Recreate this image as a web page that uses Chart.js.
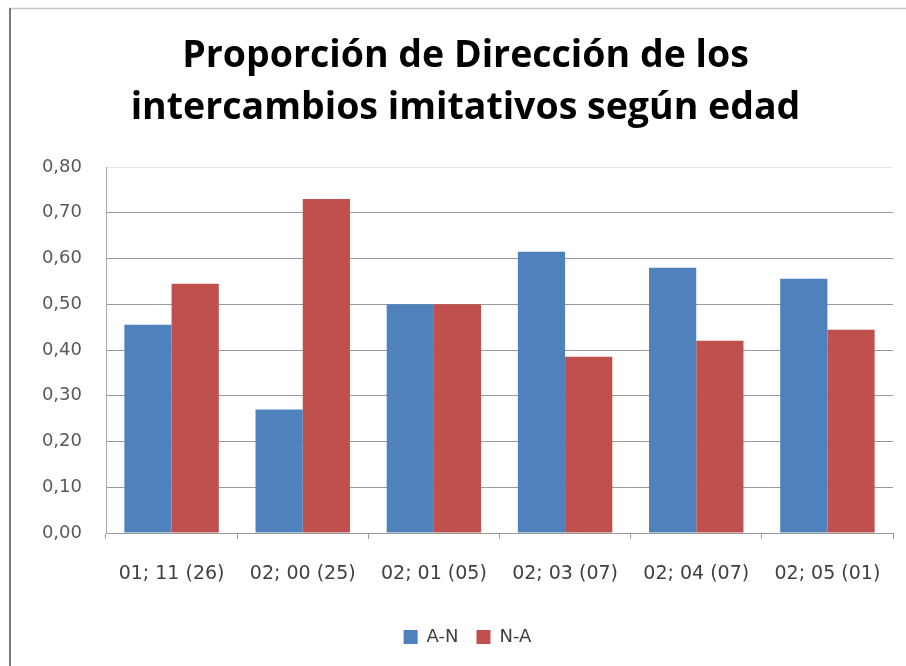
<!DOCTYPE html>
<html>
<head>
<meta charset="utf-8">
<script src="https://cdn.jsdelivr.net/npm/chart.js@4/dist/chart.umd.min.js"></script>
<style>
  html, body { margin: 0; padding: 0; background: #ffffff; }
  #wrap { width: 906px; height: 666px; }
</style>
</head>
<body>
<div id="wrap"><canvas id="c" width="906" height="666"></canvas></div>
<script>
const titleLines = ["Proporción de Dirección de los", "intercambios imitativos según edad"];
const categories = ["01; 11 (26)", "02; 00 (25)", "02; 01 (05)", "02; 03 (07)", "02; 04 (07)", "02; 05 (01)"];
const seriesNames = ["A-N", "N-A"];
const valuesAN = [0.455, 0.27, 0.50, 0.615, 0.58, 0.556];
const valuesNA = [0.545, 0.73, 0.50, 0.385, 0.42, 0.444];
const yTicks = [0.00, 0.10, 0.20, 0.30, 0.40, 0.50, 0.60, 0.70, 0.80];

const frame = {
  id: 'frame',
  beforeDraw(chart) {
    const ctx = chart.ctx;
    ctx.save();
    ctx.fillStyle = '#ffffff';
    ctx.fillRect(0, 0, chart.width, chart.height);
    ctx.restore();
  },
  afterDraw(chart) {
    const ctx = chart.ctx;
    ctx.save();
    ctx.strokeStyle = '#c8c8c8';
    ctx.lineWidth = 1.5;
    ctx.beginPath();
    ctx.moveTo(9, 8.5);
    ctx.lineTo(chart.width, 8.5);
    ctx.stroke();
    ctx.strokeStyle = '#7a7a7a';
    ctx.lineWidth = 2;
    ctx.beginPath();
    ctx.moveTo(10, 8);
    ctx.lineTo(10, chart.height);
    ctx.stroke();
    ctx.restore();
  }
};

const blockShift = {
  id: 'blockShift',
  afterLayout(chart) {
    const lg = chart.legend;
    if (lg) { lg.left += 21; lg.right += 21; lg.top -= 7; lg.bottom -= 7; }
    const tb = chart.titleBlock;
    if (tb) { tb.left += 19; tb.right += 19; }
  }
};

new Chart(document.getElementById('c'), {
  type: 'bar',
  data: {
    labels: categories,
    datasets: [
      { label: seriesNames[0], data: valuesAN, backgroundColor: '#4F81BD', borderWidth: 0,
        categoryPercentage: 0.72, barPercentage: 1.0 },
      { label: seriesNames[1], data: valuesNA, backgroundColor: '#C0504D', borderWidth: 0,
        categoryPercentage: 0.72, barPercentage: 1.0 }
    ]
  },
  options: {
    responsive: false,
    animation: false,
    devicePixelRatio: 1,
    layout: { padding: { left: 0, right: 13, top: 0, bottom: 3 } },
    plugins: {
      title: {
        display: true,
        text: titleLines,
        color: '#000000',
        font: { family: 'Open Sans', weight: 'bold', size: 37.5, lineHeight: 52 / 37.5 },
        padding: { top: 30, bottom: 33 }
      },
      legend: {
        display: true,
        position: 'bottom',
        labels: {
          boxWidth: 14, boxHeight: 14, padding: 18,
          color: '#404040',
          font: { family: 'DejaVu Sans', size: 18 }
        }
      },
      tooltip: { enabled: false }
    },
    scales: {
      x: {
        grid: { offset: true, drawOnChartArea: false, drawTicks: true, tickLength: 6, color: '#9a9a9a' },
        border: { display: true, color: '#9a9a9a', width: 1 },
        ticks: { color: '#404040', font: { family: 'DejaVu Sans', size: 19 }, padding: 24, maxRotation: 0, autoSkip: false },
        afterFit(scale) { scale.height = 84; }
      },
      y: {
        min: 0, max: 0.8,
        afterBuildTicks(scale) { scale.ticks = yTicks.map(v => ({ value: v })); },
        grid: {
          drawTicks: false,
          color: ctx => (ctx.tick && Math.abs(ctx.tick.value - 0.8) < 1e-6) ? '#e6e6e6' : '#9a9a9a',
          lineWidth: 1
        },
        border: { display: true, color: '#a8a8a8', width: 1 },
        ticks: {
          color: '#595959',
          font: { family: 'DejaVu Sans', size: 18 },
          padding: 24,
          callback: v => Number(v).toFixed(2).replace('.', ',')
        },
        afterFit(scale) { scale.width = 106; }
      }
    }
  },
  plugins: [frame, blockShift]
});
</script>
</body>
</html>
